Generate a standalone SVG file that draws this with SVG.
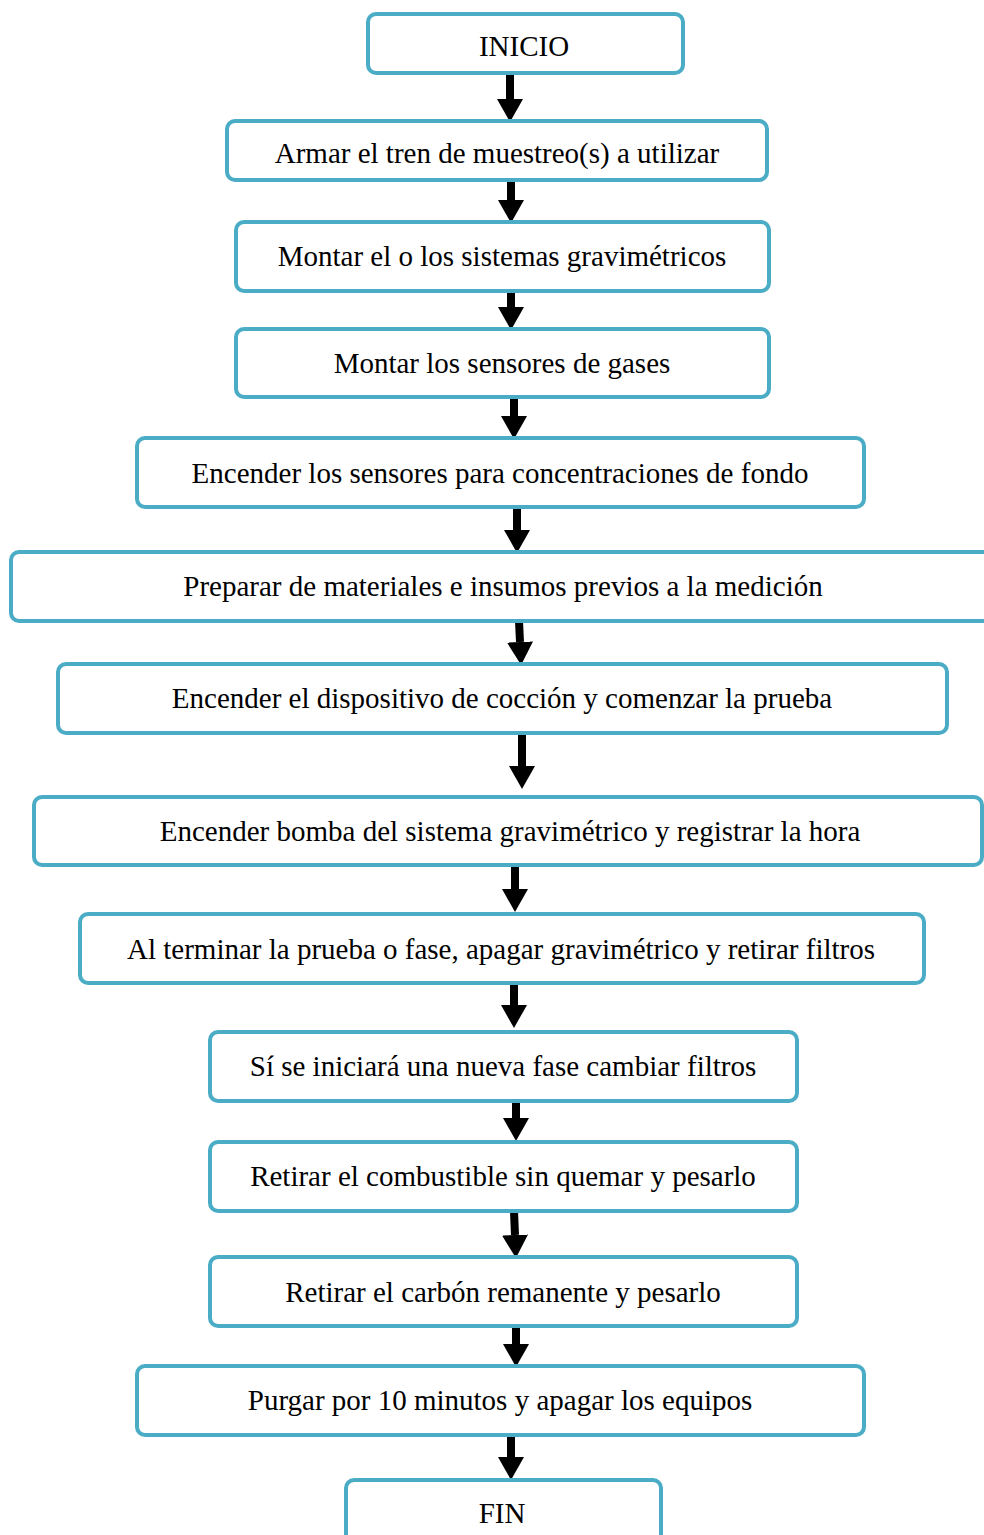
<svg xmlns="http://www.w3.org/2000/svg" width="984" height="1535" viewBox="0 0 984 1535">
<defs>
<style>
.box{fill:#ffffff;stroke:#4bacc6;stroke-width:4}
.lbl{font-family:"Liberation Serif","Times New Roman",serif;font-size:29px;fill:#000;text-anchor:middle;dominant-baseline:central}
.arr{stroke:#000;stroke-width:8;fill:none}
</style>
<marker id="ah" markerUnits="userSpaceOnUse" markerWidth="24" markerHeight="26" refX="0" refY="13" orient="auto" viewBox="0 0 24 26">
<path d="M0,0 L23,13 L0,26 z" fill="#000"/>
</marker>
</defs>
<rect width="984" height="1535" fill="#ffffff"/>
<g id="connectors">
<line class="arr" x1="510" y1="73" x2="510" y2="99" marker-end="url(#ah)"/>
<line class="arr" x1="511" y1="180" x2="511" y2="200" marker-end="url(#ah)"/>
<line class="arr" x1="511" y1="291" x2="511" y2="307" marker-end="url(#ah)"/>
<line class="arr" x1="514" y1="397" x2="514" y2="416" marker-end="url(#ah)"/>
<line class="arr" x1="517" y1="507" x2="517" y2="530" marker-end="url(#ah)"/>
<line class="arr" x1="519" y1="621" x2="520" y2="642" marker-end="url(#ah)"/>
<line class="arr" x1="522" y1="733" x2="522" y2="766" marker-end="url(#ah)"/>
<line class="arr" x1="515" y1="865" x2="515" y2="889" marker-end="url(#ah)"/>
<line class="arr" x1="514" y1="983" x2="514" y2="1005" marker-end="url(#ah)"/>
<line class="arr" x1="516" y1="1101" x2="516" y2="1118" marker-end="url(#ah)"/>
<line class="arr" x1="514" y1="1211" x2="515" y2="1235" marker-end="url(#ah)"/>
<line class="arr" x1="516" y1="1326" x2="516" y2="1344" marker-end="url(#ah)"/>
<line class="arr" x1="511" y1="1435" x2="511" y2="1457" marker-end="url(#ah)"/>
</g>
<g id="n1"><rect class="box" x="368" y="14" width="315" height="59" rx="8"/><text class="lbl" x="524" y="46">INICIO</text></g>
<g id="n2"><rect class="box" x="227" y="121" width="540" height="59" rx="8"/><text class="lbl" x="497" y="153">Armar el tren de muestreo(s) a utilizar</text></g>
<g id="n3"><rect class="box" x="236" y="222" width="533" height="69" rx="8"/><text class="lbl" x="502" y="256">Montar el o los sistemas gravimétricos</text></g>
<g id="n4"><rect class="box" x="236" y="329" width="533" height="68" rx="8"/><text class="lbl" x="502" y="363">Montar los sensores de gases</text></g>
<g id="n5"><rect class="box" x="137" y="438" width="727" height="69" rx="8"/><text class="lbl" x="500" y="473">Encender los sensores para concentraciones de fondo</text></g>
<g id="n6"><rect class="box" x="11" y="552" width="985" height="69" rx="8"/><text class="lbl" x="503" y="586">Preparar de materiales e insumos previos a la medición</text></g>
<g id="n7"><rect class="box" x="58" y="664" width="889" height="69" rx="8"/><text class="lbl" x="502" y="698">Encender el dispositivo de cocción y comenzar la prueba</text></g>
<g id="n8"><rect class="box" x="34" y="797" width="948" height="68" rx="8"/><text class="lbl" x="510" y="831">Encender bomba del sistema gravimétrico y registrar la hora</text></g>
<g id="n9"><rect class="box" x="80" y="914" width="844" height="69" rx="8"/><text class="lbl" x="501" y="949">Al terminar la prueba o fase, apagar gravimétrico y retirar filtros</text></g>
<g id="n10"><rect class="box" x="210" y="1032" width="587" height="69" rx="8"/><text class="lbl" x="503" y="1066">Sí se iniciará una nueva fase cambiar filtros</text></g>
<g id="n11"><rect class="box" x="210" y="1142" width="587" height="69" rx="8"/><text class="lbl" x="503" y="1176">Retirar el combustible sin quemar y pesarlo</text></g>
<g id="n12"><rect class="box" x="210" y="1257" width="587" height="69" rx="8"/><text class="lbl" x="503" y="1292">Retirar el carbón remanente y pesarlo</text></g>
<g id="n13"><rect class="box" x="137" y="1366" width="727" height="69" rx="8"/><text class="lbl" x="500" y="1400">Purgar por 10 minutos y apagar los equipos</text></g>
<g id="n14"><rect class="box" x="346" y="1480" width="315" height="65" rx="8"/><text class="lbl" x="502" y="1513">FIN</text></g>
</svg>
